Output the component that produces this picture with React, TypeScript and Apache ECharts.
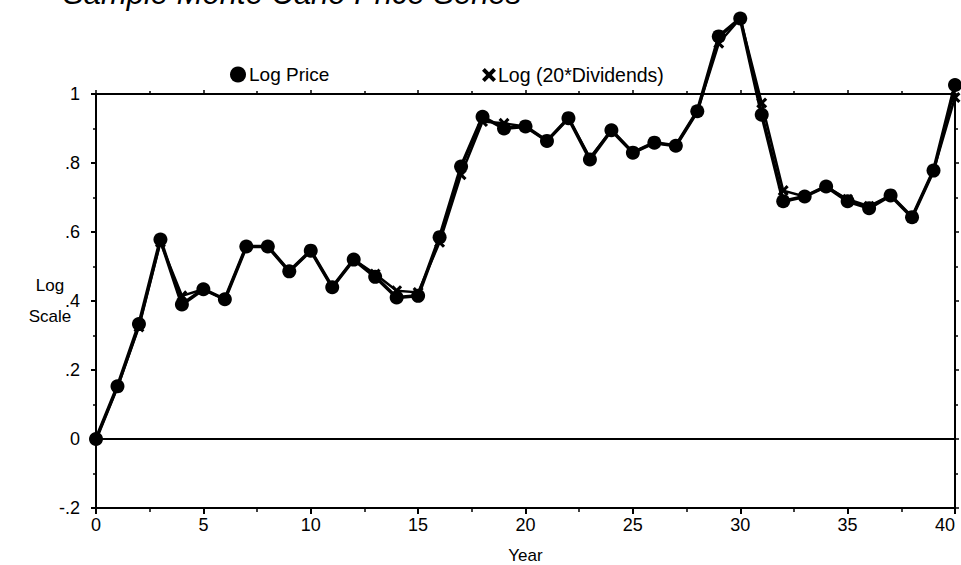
import React, { useEffect, useRef } from "react";
import * as echarts from "echarts";

const years = Array.from({ length: 41 }, (_, i) => i);
const logPrice = [
  0, 0.153, 0.333, 0.578, 0.39, 0.434, 0.405, 0.558, 0.558, 0.486, 0.546,
  0.44, 0.52, 0.47, 0.41, 0.415, 0.585, 0.79, 0.934, 0.9, 0.906,
  0.864, 0.93, 0.81, 0.895, 0.83, 0.859, 0.85, 0.95, 1.167, 1.219,
  0.94, 0.689, 0.703, 0.732, 0.689, 0.669, 0.706, 0.643, 0.778, 1.026,
];
const logDividends = [
  0, 0.15, 0.325, 0.57, 0.415, 0.434, 0.405, 0.558, 0.558, 0.486, 0.546,
  0.44, 0.52, 0.478, 0.43, 0.425, 0.57, 0.766, 0.92, 0.915, 0.906,
  0.864, 0.93, 0.815, 0.895, 0.83, 0.859, 0.85, 0.95, 1.147, 1.219,
  0.974, 0.72, 0.703, 0.732, 0.695, 0.675, 0.706, 0.643, 0.778, 0.99,
];
const xTicks = [0, 5, 10, 15, 20, 25, 30, 35, 40];

const crossPath =
  "path://M0,2 L2,0 L5,3 L8,0 L10,2 L7,5 L10,8 L8,10 L5,7 L2,10 L0,8 L3,5 Z";

export default function App() {
  const ref = useRef<HTMLDivElement>(null);
  useEffect(() => {
    if (!ref.current) return;
    const chart = echarts.init(ref.current, null, { renderer: "svg" });
    const font = "Liberation Sans, Arial, sans-serif";
    const fmtY = (v: number) => {
      const r = Math.round(v * 10) / 10;
      if (r === 0) return "0";
      if (r === 1) return "1";
      return (r < 0 ? "-" : "") + String(Math.abs(r)).replace(/^0/, "");
    };
    const frameAxisLine = { show: true, onZero: false, lineStyle: { color: "#000", width: 2 } };
    chart.setOption({
      animation: false,
      backgroundColor: "#fff",
      textStyle: { fontFamily: font, color: "#000" },
      title: {
        text: "Sample Monte Carlo Price Series",
        left: 58,
        top: -27,
        textStyle: {
          fontFamily: font,
          fontSize: 31,
          fontStyle: "italic",
          fontWeight: "normal",
          color: "#000",
        },
      },
      legend: [
        {
          data: [{ name: "Log Price", icon: "circle" }],
          left: 225,
          top: 60,
          itemWidth: 16,
          itemHeight: 16,
          itemGap: 2,
          textStyle: { fontSize: 19, color: "#000", fontFamily: font, padding: [0, 0, 0, -2] },
          selectedMode: false,
        },
        {
          data: [{ name: "Log (20*Dividends)", icon: crossPath }],
          left: 477,
          top: 60,
          itemWidth: 14,
          itemHeight: 14,
          textStyle: { fontSize: 19.5, color: "#000", fontFamily: font, padding: [0, 0, 0, -3] },
          selectedMode: false,
        },
      ],
      grid: { left: 96, right: 6, top: 94, bottom: 57, outerBoundsMode: "none", containLabel: false },
      xAxis: [
        {
          type: "value",
          min: 0,
          max: 40,
          interval: 5,
          position: "bottom",
          name: "Year",
          nameLocation: "middle",
          nameGap: 39,
          nameMoveOverlap: false,
          nameTextStyle: { fontSize: 17, color: "#000", fontFamily: font },
          axisLine: frameAxisLine,
          axisTick: { show: true, length: 6, lineStyle: { color: "#000", width: 2 } },
          minorTick: { show: true, splitNumber: 2, length: 4, lineStyle: { color: "#000", width: 1.5 } },
          axisLabel: {
            fontSize: 18,
            color: "#000",
            fontFamily: font,
            margin: 8,
            customValues: xTicks,
            alignMaxLabel: "right",
          },
          splitLine: { show: false },
        },
        {
          type: "value",
          min: 0,
          max: 40,
          interval: 5,
          position: "top",
          axisLine: frameAxisLine,
          axisTick: { show: true, length: 4, lineStyle: { color: "#000", width: 1.5 } },
          minorTick: { show: true, splitNumber: 2, length: 3, lineStyle: { color: "#000", width: 1.5 } },
          axisLabel: { show: false },
          splitLine: { show: false },
        },
      ],
      yAxis: [
        {
          type: "value",
          min: -0.2,
          max: 1,
          interval: 0.2,
          position: "left",
          name: "Log\nScale",
          nameLocation: "middle",
          nameRotate: 0,
          nameGap: 46,
          nameMoveOverlap: false,
          nameTextStyle: {
            fontSize: 17,
            color: "#000",
            fontFamily: font,
            lineHeight: 31,
            align: "center",
            verticalAlign: "middle",
            padding: [4, 0, 0, 0],
          },
          axisLine: frameAxisLine,
          axisTick: { show: true, length: 5, lineStyle: { color: "#000", width: 2 } },
          minorTick: { show: true, splitNumber: 2, length: 3, lineStyle: { color: "#000", width: 1.5 } },
          axisLabel: {
            fontSize: 18,
            color: "#000",
            fontFamily: font,
            margin: 16,
            formatter: fmtY,
          },
          splitLine: { show: false },
        },
        {
          type: "value",
          min: -0.2,
          max: 1,
          interval: 0.2,
          position: "right",
          axisLine: frameAxisLine,
          axisTick: { show: true, length: 4, lineStyle: { color: "#000", width: 1.5 } },
          minorTick: { show: true, splitNumber: 2, length: 3, lineStyle: { color: "#000", width: 1.5 } },
          axisLabel: { show: false },
          splitLine: { show: false },
        },
      ],
      series: [
        {
          name: "Log (20*Dividends)",
          type: "line",
          data: years.map((y, i) => [y, logDividends[i]]),
          clip: false,
          symbol: crossPath,
          symbolSize: 11,
          itemStyle: { color: "#000" },
          lineStyle: { color: "#000", width: 2.5 },
          z: 2,
        },
        {
          name: "Log Price",
          type: "line",
          data: years.map((y, i) => [y, logPrice[i]]),
          clip: false,
          symbol: "circle",
          symbolSize: 14,
          itemStyle: { color: "#000" },
          lineStyle: { color: "#000", width: 3.5 },
          z: 3,
          markLine: {
            silent: true,
            symbol: "none",
            label: { show: false },
            lineStyle: { color: "#000", width: 1.8, type: "solid" },
            data: [{ yAxis: 0 }],
          },
        },
      ],
    });
    return () => chart.dispose();
  }, []);
  return (
    <div
      ref={ref}
      style={{ position: "absolute", left: 0, top: 0, width: 961, height: 565 }}
    />
  );
}
